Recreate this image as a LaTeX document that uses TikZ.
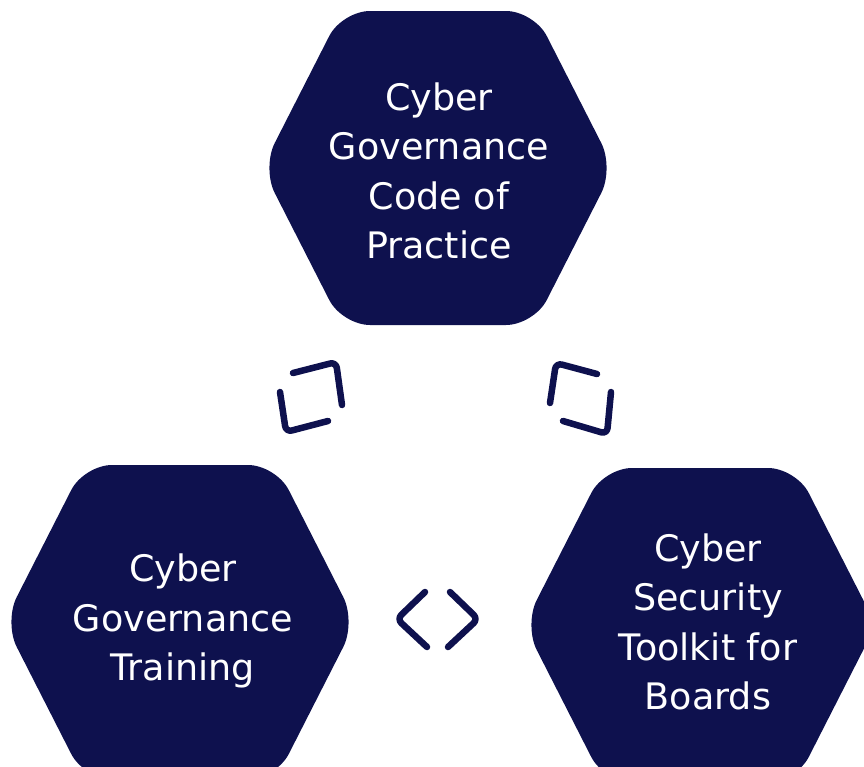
\documentclass[tikz,border=0pt]{standalone}
\usepackage{fontspec}
\setmainfont{DejaVu Sans}
\usetikzlibrary{calc}
\definecolor{marine}{RGB}{14,17,78}
\tikzset{
    hexa/.style={fill=marine,rounded corners=28pt},
    texte/.style={text=white,align=center,font=\fontsize{36.5}{49.5}\selectfont},
    signe/.style={draw=marine,line width=6.5pt,line cap=round,line join=round,rounded corners=6pt},
  }

\begin{document}
\begin{tikzpicture}[x=1pt,y=-1pt]
				  \useasboundingbox (0,0) rectangle (864,766);
				  %CENTRES
				  \coordinate (T) at (438,168);
				  \coordinate (L) at (180,622);
				  \coordinate (R) at (700,625);
				  %HEXAGONES
				  \foreach \c in {T,L,R}
				  \fill[hexa,shift={(\c)}] (0,-157) -- (96,-157) -- (176,0) -- (96,157) -- (-96,157) -- (-176,0) -- (-96,-157) -- cycle;
				  %textes
				  \node[texte] (code) at ($(T)+(1,3)$) {Cyber\\Governance\\Code of\\Practice};
				  \node[texte] (formation) at ($(L)+(3,-1)$) {Cyber\\Governance\\Training};
				  \node[texte] (outils) at ($(R)+(8,-3)$) {Cyber\\Security\\Toolkit for\\Boards};
				  %signes haut gauche
				  \draw[signe] (293,373) -- (336,362) -- (342,405);
				  \draw[signe] (280,392) -- (286,432) -- (328,421);
				  %signes haut droite
				  \draw[signe] (550,403) -- (556,363) -- (597,374);
				  \draw[signe] (563,421) -- (607,434) -- (611,392);
				  %signes bas
				  \draw[signe] (425,592) -- (397,619) -- (427,647);
				  \draw[signe] (450,592) -- (478,619) -- (448,647);
				  \end{tikzpicture}
\end{document}
